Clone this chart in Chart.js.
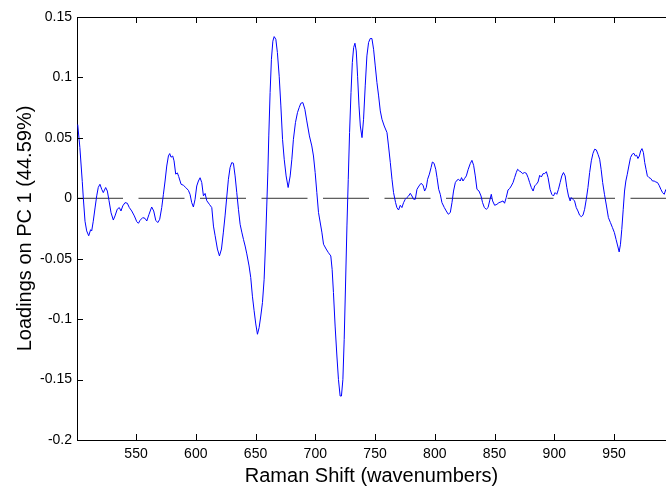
<!DOCTYPE html>
<html lang="en">
<head>
  <meta charset="UTF-8">
  <title>PC 1 loadings</title>
  <script src="https://cdn.jsdelivr.net/npm/chart.js@4.4.0/dist/chart.umd.min.js"></script>
  <style>
    html, body { margin: 0; padding: 0; background: #fff; overflow: hidden; }
    canvas { display: block; }
  </style>
</head>
<body>
  <canvas id="loadingsChart" width="666" height="493"></canvas>

  <script>
    // axis range (the right side of the figure is cropped at ~993)
    const xMin = 500.6;
    const xMax = 993.5;
    const xTicks = [550, 600, 650, 700, 750, 800, 850, 900, 950];
    const yTicks = [0.15, 0.1, 0.05, 0, -0.05, -0.1, -0.15, -0.2];

    // Raman shift (wavenumbers)
    const shift = [
      501.2, 503.0, 505.0, 505.9, 507.3, 508.7, 510.4, 512.0, 512.9, 514.2, 515.7, 517.1, 518.4, 519.8, 521.3, 522.6,
      524.6, 526.0, 527.4, 529.1, 531.0, 532.4, 534.3, 536.0, 537.4, 538.9, 540.8, 542.7, 544.4, 546.4, 548.6, 550.6,
      552.0, 553.4, 555.6, 557.5, 559.0, 560.9, 563.1, 564.8, 566.5, 568.2, 569.8, 571.5, 572.9, 574.3, 575.7, 577.1,
      578.2, 579.3, 580.7, 581.8, 583.2, 584.6, 585.7, 587.7, 589.6, 591.6, 593.8, 595.2, 596.6, 598.0, 599.4, 600.8,
      602.2, 603.6, 605.0, 606.4, 607.8, 609.2, 611.4, 613.4, 614.8, 616.2, 618.1, 619.8, 621.5, 623.1, 624.5, 626.0,
      627.3, 628.7, 630.1, 631.5, 632.9, 634.3, 635.7, 637.1, 638.5, 639.9, 641.3, 642.7, 644.6, 646.0, 647.4, 648.8,
      650.2, 651.6, 653.0, 654.4, 655.8, 657.2, 658.3, 659.4, 660.3, 661.1, 662.2, 663.3, 664.5, 665.6, 667.0, 668.3,
      669.8, 671.2, 672.6, 674.0, 675.6, 677.3, 679.0, 680.4, 681.7, 683.4, 685.1, 686.5, 687.9, 689.6, 691.3, 692.9,
      695.1, 697.1, 698.5, 699.9, 701.3, 702.7, 705.5, 706.9, 709.1, 711.0, 713.0, 714.1, 715.2, 716.6, 718.1, 719.4,
      720.8, 721.9, 723.1, 724.2, 725.3, 726.5, 727.6, 728.7, 729.9, 731.0, 732.1, 733.2, 734.3, 735.4, 736.6, 737.7,
      739.1, 740.4, 741.8, 743.2, 744.6, 746.0, 747.4, 748.8, 750.2, 751.6, 753.0, 754.4, 755.8, 757.7, 760.0, 761.3,
      762.8, 764.2, 765.5, 767.2, 768.3, 769.7, 771.1, 772.5, 773.9, 775.3, 776.7, 778.1, 779.5, 780.9, 782.3, 783.7,
      785.1, 786.8, 788.5, 790.2, 791.5, 792.9, 794.0, 795.5, 796.9, 798.0, 799.4, 800.8, 801.9, 803.3, 804.6, 806.0,
      808.0, 809.6, 811.3, 813.0, 814.4, 815.7, 817.2, 818.6, 819.9, 821.3, 822.4, 823.6, 824.9, 826.4, 828.0, 829.7,
      831.1, 832.5, 833.9, 835.3, 837.0, 838.7, 840.0, 841.5, 843.1, 844.6, 845.9, 847.3, 848.4, 850.1, 852.0, 853.7,
      855.4, 857.1, 858.4, 859.8, 861.3, 862.6, 864.0, 865.5, 866.8, 868.2, 869.3, 870.8, 872.2, 873.5, 875.0, 876.6,
      878.1, 879.4, 880.8, 882.3, 883.6, 885.0, 886.4, 887.8, 889.2, 890.6, 892.0, 893.4, 894.8, 896.5, 897.9, 899.3,
      900.7, 902.1, 903.5, 904.9, 906.3, 907.7, 909.1, 910.5, 911.9, 913.3, 914.2, 915.6, 917.0, 918.4, 919.8, 921.2,
      922.6, 924.0, 925.4, 926.8, 928.2, 929.6, 931.0, 932.4, 933.8, 935.2, 936.6, 938.0, 939.2, 940.5, 942.0, 943.7,
      945.3, 947.0, 948.7, 950.3, 951.7, 953.1, 954.3, 955.4, 956.5, 957.7, 958.8, 959.9, 961.1, 962.4, 963.8, 965.2,
      966.6, 967.8, 968.9, 970.0, 971.2, 972.3, 973.4, 974.6, 975.7, 976.8, 977.9, 979.3, 980.8, 982.2, 983.6, 985.0,
      986.4, 987.7, 989.2, 990.6, 992.0, 993.4
    ];

    // loadings on PC 1
    const loadings = [
      0.061, 0.042, 0.014, 0.0, -0.019, -0.027, -0.031, -0.026, -0.027, -0.019, -0.008, 0.002, 0.009, 0.0116, 0.0074, 0.0047,
      0.0089, 0.006, -0.002, -0.012, -0.018, -0.0146, -0.009, -0.0077, -0.0105, -0.0063, -0.0036, -0.0041, -0.0077, -0.0105, -0.0146, -0.0193,
      -0.0207, -0.0182, -0.016, -0.0166, -0.0188, -0.0132, -0.0072, -0.0105, -0.0182, -0.0201, -0.0174, -0.0077, 0.0033, 0.0143, 0.0267, 0.035,
      0.037, 0.034, 0.035, 0.031, 0.020, 0.021, 0.018, 0.0116, 0.0108, 0.0089, 0.0066, 0.0033, -0.0036, -0.0072, -0.0008, 0.0102,
      0.0143, 0.017, 0.013, 0.002, 0.004, -0.002, -0.005, -0.0077, -0.023, -0.031, -0.042, -0.0477, -0.042, -0.028, -0.0146, 0.0019,
      0.0157, 0.0254, 0.0295, 0.029, 0.0185, 0.0047, -0.0091, -0.0215, -0.028, -0.034, -0.0395, -0.046, -0.056, -0.0656, -0.081, -0.093,
      -0.104, -0.1125, -0.107, -0.0974, -0.0863, -0.067, -0.0395, -0.0064, 0.021, 0.0516, 0.0875, 0.115, 0.130, 0.1338, 0.1316, 0.1206,
      0.101, 0.0764, 0.0488, 0.0323, 0.0185, 0.0089, 0.0185, 0.0323, 0.0488, 0.0626, 0.0709, 0.075, 0.0786, 0.0792, 0.0736, 0.064,
      0.0516, 0.0433, 0.035, 0.0213, 0.0047, -0.0118, -0.028, -0.038, -0.042, -0.045, -0.0477, -0.0588, -0.078, -0.1057, -0.1305, -0.150,
      -0.1636, -0.1636, -0.150, -0.1167, -0.0726, -0.0229, 0.0157, 0.0544, 0.0875, 0.1123, 0.1247, 0.1283, 0.1219, 0.101, 0.0764, 0.0598,
      0.0502, 0.0654, 0.093, 0.1178, 0.1289, 0.1322, 0.1322, 0.1233, 0.1095, 0.0958, 0.0847, 0.0723, 0.0654, 0.0598, 0.0544, 0.0433,
      0.0295, 0.0157, 0.0047, -0.0036, -0.0077, -0.0097, -0.0058, -0.0077, -0.0036, -0.0008, 0.0006, 0.0019, 0.0041, 0.0019, -0.0008, -0.0008,
      0.0074, 0.0102, 0.0124, 0.0108, 0.006, 0.0089, 0.0157, 0.020, 0.0254, 0.030, 0.029, 0.024, 0.0171, 0.0074, 0.0033, -0.0036,
      -0.0077, -0.0105, -0.0132, -0.0118, -0.0036, 0.006, 0.013, 0.015, 0.0157, 0.0143, 0.0171, 0.0143, 0.0163, 0.0185, 0.024, 0.0287,
      0.0314, 0.0273, 0.0185, 0.0074, 0.006, 0.0019, -0.0036, -0.0077, -0.0091, -0.0077, -0.0022, 0.0033, -0.0022, -0.0058, -0.005, -0.0036,
      -0.003, -0.0022, -0.0041, 0.0006, 0.0069, 0.008, 0.0102, 0.013, 0.0171, 0.0213, 0.024, 0.0226, 0.0218, 0.0204, 0.0213, 0.0207,
      0.0171, 0.013, 0.0089, 0.006, 0.0102, 0.0116, 0.0135, 0.019, 0.0176, 0.0204, 0.0204, 0.022, 0.0171, 0.0074, 0.0033, 0.0019,
      0.0047, 0.0033, 0.0074, 0.013, 0.0185, 0.0213, 0.0185, 0.0089, 0.0019, -0.0022, 0.0006, -0.0008, -0.0022, -0.0077, -0.0105, -0.014,
      -0.0152, -0.014, -0.0091, -0.0008, 0.0089, 0.0213, 0.031, 0.0372, 0.0406, 0.04, 0.0364, 0.0323, 0.024, 0.013, 0.0033, -0.0064,
      -0.016, -0.0201, -0.0243, -0.0284, -0.034, -0.0395, -0.0444, -0.038, -0.0257, -0.0091, 0.006, 0.0143, 0.0199, 0.0267, 0.0337, 0.0364,
      0.0372, 0.035, 0.0356, 0.0329, 0.035, 0.0392, 0.0411, 0.0378, 0.0295, 0.024, 0.0185, 0.0171, 0.0163, 0.0143, 0.0143, 0.0135,
      0.013, 0.0108, 0.0074, 0.0047, 0.0033, 0.0074
    ];

    // dashed reference line at zero
    const zeroX = [xMin, xMax];
    const zeroY = [0, 0];

    const fontFamily = "'Liberation Sans', Arial, sans-serif";

    // box top line + inward tick marks, like the matlab axes
    const axesFrame = {
      id: 'axesFrame',
      afterDatasetsDraw(chart) {
        const { ctx, chartArea: a, scales: { x, y } } = chart;
        ctx.save();
        ctx.strokeStyle = '#000';
        ctx.lineWidth = 1;
        ctx.beginPath();
        ctx.moveTo(a.left, a.top + 0.5);
        ctx.lineTo(a.right, a.top + 0.5);
        xTicks.forEach(v => {
          const px = Math.round(x.getPixelForValue(v)) + 0.5;
          ctx.moveTo(px, a.bottom);
          ctx.lineTo(px, a.bottom - 6);
          ctx.moveTo(px, a.top);
          ctx.lineTo(px, a.top + 6);
        });
        yTicks.forEach(v => {
          const py = Math.round(y.getPixelForValue(v)) + 0.5;
          ctx.moveTo(a.left, py);
          ctx.lineTo(a.left + 6, py);
        });
        ctx.stroke();
        ctx.restore();
      }
    };

    const ctx = document.getElementById('loadingsChart').getContext('2d');

    new Chart(ctx, {
      type: 'line',
      data: {
        datasets: [
          {
            label: 'PC 1',
            data: shift.map((s, i) => ({ x: s, y: loadings[i] })),
            borderColor: '#0000ff',
            borderWidth: 1,
            pointRadius: 0,
            tension: 0,
            fill: false
          },
          {
            label: 'zero',
            data: zeroX.map((s, i) => ({ x: s, y: zeroY[i] })),
            borderColor: '#333',
            borderWidth: 1,
            borderDash: [46, 15.5],
            pointRadius: 0,
            fill: false
          }
        ]
      },
      options: {
        responsive: false,
        animation: false,
        devicePixelRatio: 1,
        layout: { padding: { top: 17, right: 0, bottom: 0, left: 0 } },
        plugins: {
          legend: { display: false },
          tooltip: { enabled: false }
        },
        scales: {
          x: {
            type: 'linear',
            min: xMin,
            max: xMax,
            afterBuildTicks: s => { s.ticks = xTicks.map(v => ({ value: v })); },
            afterFit: s => { s.height = 53; },
            grid: { display: false, drawTicks: false },
            border: { display: true, color: '#000', width: 1 },
            ticks: {
              color: '#000',
              padding: 6,
              maxRotation: 0,
              font: { family: fontFamily, size: 14 }
            },
            title: {
              display: true,
              text: 'Raman Shift (wavenumbers)',
              color: '#000',
              padding: { top: 0, bottom: 5 },
              font: { family: fontFamily, size: 20 }
            }
          },
          y: {
            min: -0.2,
            max: 0.15,
            afterBuildTicks: s => { s.ticks = yTicks.map(v => ({ value: v })); },
            afterFit: s => { s.width = 77; },
            grid: { display: false, drawTicks: false },
            border: { display: true, color: '#000', width: 1 },
            ticks: {
              color: '#000',
              padding: 5,
              font: { family: fontFamily, size: 14 },
              callback: v => String(+v.toFixed(2))
            },
            title: {
              display: true,
              text: 'Loadings on PC 1 (44.59%)',
              color: '#000',
              padding: { top: 13, bottom: 0 },
              font: { family: fontFamily, size: 20 }
            }
          }
        }
      },
      plugins: [axesFrame]
    });
  </script>
</body>
</html>
